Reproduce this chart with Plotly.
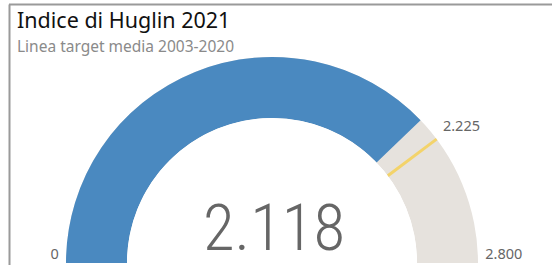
import plotly.graph_objects as go

title_text = "Indice di Huglin 2021"
subtitle_text = "Linea target media 2003-2020"
value = 2118
range_min = 0
range_max = 2800
target = 2225
tick_vals = [0, 2225, 2800]
tick_text = ["0", "2.225", "2.800"]

blue = "#4A89C0"
track = "#E6E2DD"
gold = "#F3D36A"
grey_text = "#666666"

def deg(v):
    # gauge scale: value -> degrees along the half-circle
    return (v - range_min) / (range_max - range_min) * 180.0

fig = go.Figure()
# background track (full range)
fig.add_trace(go.Barpolar(r=[1], theta=[deg((range_min + range_max) / 2)], width=[deg(range_max)],
                          marker=dict(color=track, line=dict(width=0)), hoverinfo="skip"))
# value bar
fig.add_trace(go.Barpolar(r=[1], theta=[deg(value / 2)], width=[deg(value)],
                          marker=dict(color=blue, line=dict(width=0)), hoverinfo="skip"))
# target line
fig.add_trace(go.Scatterpolar(r=[0, 1], theta=[deg(target), deg(target)], mode="lines",
                              line=dict(color=gold, width=3), hoverinfo="skip"))
# tick labels
lab_pos = ["top left", "top right", "top right"]
lab_r = [1.12, 1.13, 1.12]
fig.add_trace(go.Scatterpolar(r=lab_r, theta=[deg(v) for v in tick_vals], mode="text",
                              text=tick_text, textposition=lab_pos, cliponaxis=False,
                              textfont=dict(family="Noto Sans", size=14.5, color=grey_text),
                              hoverinfo="skip"))

fig.update_layout(
    polar=dict(
        domain=dict(x=[53.8/552, 490.2/552], y=[2/265, (265-44.8)/265]),
        sector=[0, 180], hole=0.6645, bgcolor="white",
        radialaxis=dict(range=[0, 1.2], visible=False),
        angularaxis=dict(rotation=180, direction="clockwise", visible=False),
    ),
    showlegend=False,
)

value_text = f"{value:,}".replace(",", ".")
fig.add_annotation(text=value_text, xref="paper", yref="paper", x=274/552, y=1-228/265,
                   xanchor="center", yanchor="middle", showarrow=False,
                   font=dict(family="Roboto Condensed, Roboto", size=65, color=grey_text, weight=300))

fig.add_annotation(text=title_text, xref="paper", yref="paper", x=15/552, y=1-20/265,
                   xanchor="left", yanchor="middle", showarrow=False,
                   font=dict(family="Noto Sans", size=21.5, color="#111111"))
fig.add_annotation(text=subtitle_text, xref="paper", yref="paper", x=15/552, y=1-46/265,
                   xanchor="left", yanchor="middle", showarrow=False,
                   font=dict(family="Noto Sans", size=15.5, color="#8a8a8a"))

fig.add_shape(type="line", xref="paper", yref="paper", x0=9/552, x1=1, y0=1-4.5/265, y1=1-4.5/265,
              line=dict(color="#9a9a9a", width=2))
fig.add_shape(type="line", xref="paper", yref="paper", x0=9.5/552, x1=9.5/552, y0=0, y1=1-4.5/265,
              line=dict(color="#9a9a9a", width=2))

fig.update_layout(width=552, height=265, margin=dict(l=0, r=0, t=0, b=0),
                  paper_bgcolor="white", plot_bgcolor="white")
fig.write_html("out.html", config={"displayModeBar": False},
               post_script="document.body.style.margin='0px';")
